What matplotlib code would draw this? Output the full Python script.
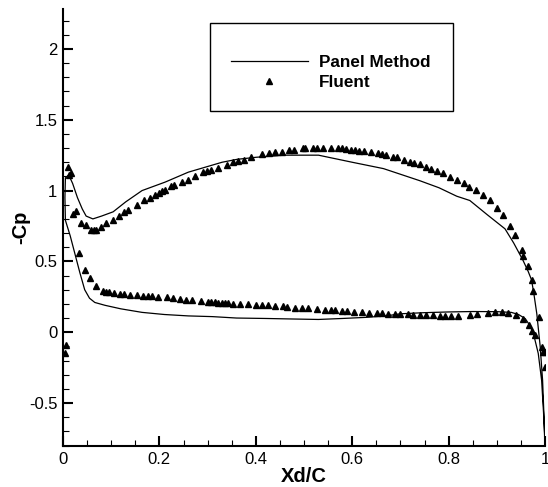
import matplotlib
matplotlib.use("Agg")
import matplotlib.pyplot as plt
from matplotlib.patches import Rectangle
from matplotlib.ticker import MultipleLocator

plt.rcParams['font.family'] = ['Liberation Sans', 'DejaVu Sans']

# panel method, lower surface from leading edge to trailing edge
panel_lo_x = [0.005, 0.015, 0.025, 0.035, 0.045, 0.055, 0.066, 0.087, 0.12, 0.164,
              0.21, 0.26, 0.31, 0.36, 0.42, 0.48, 0.53, 0.58, 0.63, 0.67, 0.70,
              0.75, 0.80, 0.85, 0.90, 0.93, 0.945, 0.959, 0.968, 0.976, 0.986,
              0.993, 0.997, 1.0]
panel_lo_y = [0.79, 0.68, 0.55, 0.42, 0.30, 0.24, 0.21, 0.19, 0.165, 0.14,
              0.125, 0.115, 0.11, 0.10, 0.097, 0.093, 0.09, 0.097, 0.105, 0.115, 0.13,
              0.138, 0.143, 0.146, 0.145, 0.14, 0.125, 0.096, 0.05, -0.01, -0.15,
              -0.34, -0.57, -0.80]
# panel method, upper surface from leading edge to trailing edge
panel_up_x = [0.004, 0.005, 0.012, 0.02, 0.03, 0.04, 0.048, 0.062, 0.08, 0.104,
              0.13, 0.164, 0.212, 0.26, 0.33, 0.36, 0.40, 0.46, 0.53, 0.60, 0.665,
              0.74, 0.78, 0.817, 0.844, 0.88, 0.917, 0.935, 0.954, 0.965, 0.972,
              0.977, 0.983, 0.99, 0.995, 1.0]
panel_up_y = [0.95, 1.09, 1.11, 1.05, 0.95, 0.87, 0.82, 0.80, 0.82, 0.85,
              0.92, 1.0, 1.06, 1.13, 1.20, 1.22, 1.235, 1.25, 1.25, 1.20, 1.155,
              1.07, 1.02, 0.96, 0.93, 0.83, 0.73, 0.63, 0.51, 0.43, 0.37,
              0.27, 0.13, -0.10, -0.34, -0.78]

# fluent, upper surface
fluent_up_x = [0.0104, 0.012, 0.016, 0.021, 0.028, 0.037, 0.048, 0.059, 0.064, 0.068,
               0.078, 0.089, 0.104, 0.116, 0.127, 0.135, 0.153, 0.168, 0.181, 0.191,
               0.199, 0.206, 0.212, 0.225, 0.23, 0.246, 0.26, 0.274, 0.29, 0.298,
               0.308, 0.322, 0.34, 0.353, 0.364, 0.375, 0.391, 0.412, 0.427, 0.44,
               0.454, 0.469, 0.479, 0.497, 0.502, 0.519, 0.526, 0.54, 0.557, 0.571,
               0.578, 0.587, 0.597, 0.606, 0.615, 0.625, 0.639, 0.653, 0.662, 0.671,
               0.685, 0.692, 0.707, 0.72, 0.728, 0.74, 0.753, 0.763, 0.775, 0.788,
               0.803, 0.817, 0.831, 0.843, 0.856, 0.871, 0.886, 0.901, 0.913, 0.927,
               0.938, 0.952, 0.955, 0.964, 0.972, 0.976, 0.988, 0.993, 0.999, 1.0]
fluent_up_y = [1.169, 1.113, 1.122, 0.836, 0.859, 0.77, 0.76, 0.725, 0.72, 0.725,
               0.746, 0.77, 0.795, 0.824, 0.847, 0.86, 0.90, 0.93, 0.95, 0.97,
               0.985, 0.995, 1.007, 1.03, 1.04, 1.063, 1.077, 1.105, 1.13, 1.14,
               1.145, 1.16, 1.18, 1.20, 1.21, 1.215, 1.235, 1.258, 1.265, 1.27,
               1.275, 1.287, 1.289, 1.298, 1.298, 1.30, 1.30, 1.30, 1.30, 1.30,
               1.298, 1.293, 1.29, 1.287, 1.28, 1.277, 1.27, 1.263, 1.258, 1.25,
               1.24, 1.235, 1.217, 1.204, 1.197, 1.185, 1.169, 1.155, 1.139, 1.122,
               1.094, 1.075, 1.052, 1.028, 1.007, 0.972, 0.934, 0.875, 0.829, 0.751,
               0.683, 0.577, 0.537, 0.465, 0.366, 0.29, 0.108, -0.103, -0.139, -0.244]

# fluent, lower surface
fluent_lo_x = [0.0035, 0.007, 0.033, 0.045, 0.057, 0.069, 0.082, 0.09, 0.096, 0.106,
               0.118, 0.127, 0.14, 0.154, 0.167, 0.177, 0.184, 0.198, 0.215, 0.229,
               0.243, 0.255, 0.267, 0.286, 0.301, 0.308, 0.315, 0.322, 0.329, 0.336,
               0.343, 0.353, 0.367, 0.384, 0.40, 0.412, 0.426, 0.44, 0.456, 0.465,
               0.481, 0.495, 0.509, 0.526, 0.544, 0.557, 0.564, 0.578, 0.589, 0.604,
               0.62, 0.634, 0.651, 0.661, 0.675, 0.689, 0.699, 0.716, 0.727, 0.741,
               0.754, 0.768, 0.782, 0.793, 0.806, 0.82, 0.844, 0.858, 0.882, 0.896,
               0.91, 0.924, 0.94, 0.955, 0.967, 0.974, 0.979, 0.995]
fluent_lo_y = [-0.15, -0.09, 0.559, 0.441, 0.383, 0.324, 0.293, 0.284, 0.284, 0.28,
               0.272, 0.268, 0.265, 0.26, 0.256, 0.256, 0.255, 0.249, 0.249, 0.244,
               0.237, 0.23, 0.23, 0.22, 0.216, 0.214, 0.21, 0.208, 0.206, 0.204,
               0.203, 0.202, 0.2, 0.197, 0.192, 0.192, 0.19, 0.183, 0.182, 0.178,
               0.174, 0.169, 0.169, 0.164, 0.16, 0.157, 0.156, 0.15, 0.148, 0.146,
               0.141, 0.136, 0.136, 0.134, 0.131, 0.129, 0.128, 0.125, 0.124, 0.121,
               0.119, 0.118, 0.117, 0.116, 0.116, 0.117, 0.124, 0.131, 0.136, 0.141,
               0.141, 0.139, 0.12, 0.093, 0.049, 0.005, -0.021, -0.139]

W, H = 548, 487
fig = plt.figure(figsize=(W / 100, H / 100), dpi=100)
ax = fig.add_axes([63 / W, 1 - 445.5 / H, 482 / W, 436.2 / H])

# one closed curve: trailing edge -> lower -> leading edge -> upper -> trailing edge
px = panel_lo_x[::-1] + panel_up_x
py = panel_lo_y[::-1] + panel_up_y
ax.plot(px, py, color='black', lw=0.9, label='Panel Method')
ax.plot(fluent_up_x + fluent_lo_x, fluent_up_y + fluent_lo_y, linestyle='none',
        marker='^', ms=4, color='black', label='Fluent')

ax.set_xlim(0, 1)
ax.set_ylim(-0.8, 2.28)
ax.xaxis.set_major_locator(MultipleLocator(0.2))
ax.xaxis.set_minor_locator(MultipleLocator(0.05))
ax.yaxis.set_major_locator(MultipleLocator(0.5))
ax.yaxis.set_minor_locator(MultipleLocator(0.1))
ax.xaxis.set_major_formatter(plt.FuncFormatter(lambda v, p: '%g' % round(v, 2)))
ax.yaxis.set_major_formatter(plt.FuncFormatter(lambda v, p: '%g' % round(v, 2)))

for s in ['top', 'right']:
    ax.spines[s].set_visible(False)
for s in ['left', 'bottom']:
    ax.spines[s].set_linewidth(1.5)
ax.tick_params(which='major', direction='in', length=7.2, width=1.5, labelsize=12)
ax.tick_params(axis='x', which='major', pad=5)
ax.tick_params(axis='y', which='major', pad=4)
ax.tick_params(which='minor', direction='in', length=4.3, width=0.8)

ax.set_xlabel('Xd/C', fontsize=14.5, fontweight='bold')
ax.xaxis.set_label_coords(0.5, -0.05)
ax.set_ylabel('-Cp', fontsize=14.5, fontweight='bold')
ax.yaxis.set_label_coords(-0.068, 0.5)

# legend entries without frame, frame drawn as its own box
leg = ax.legend(loc='upper left', bbox_to_anchor=(231 / W, 1 - 55 / H),
                bbox_transform=fig.transFigure, frameon=False,
                prop={'size': 12.3, 'weight': 'bold'}, handlelength=4.5,
                handletextpad=0.65, borderpad=0, labelspacing=0.3,
                borderaxespad=0)
fig.patches.append(Rectangle((210 / W, 1 - 111 / H), 243 / W, 88 / H,
                             transform=fig.transFigure, fill=False,
                             edgecolor='black', linewidth=1.0))

fig.savefig('out.png', dpi=100)
